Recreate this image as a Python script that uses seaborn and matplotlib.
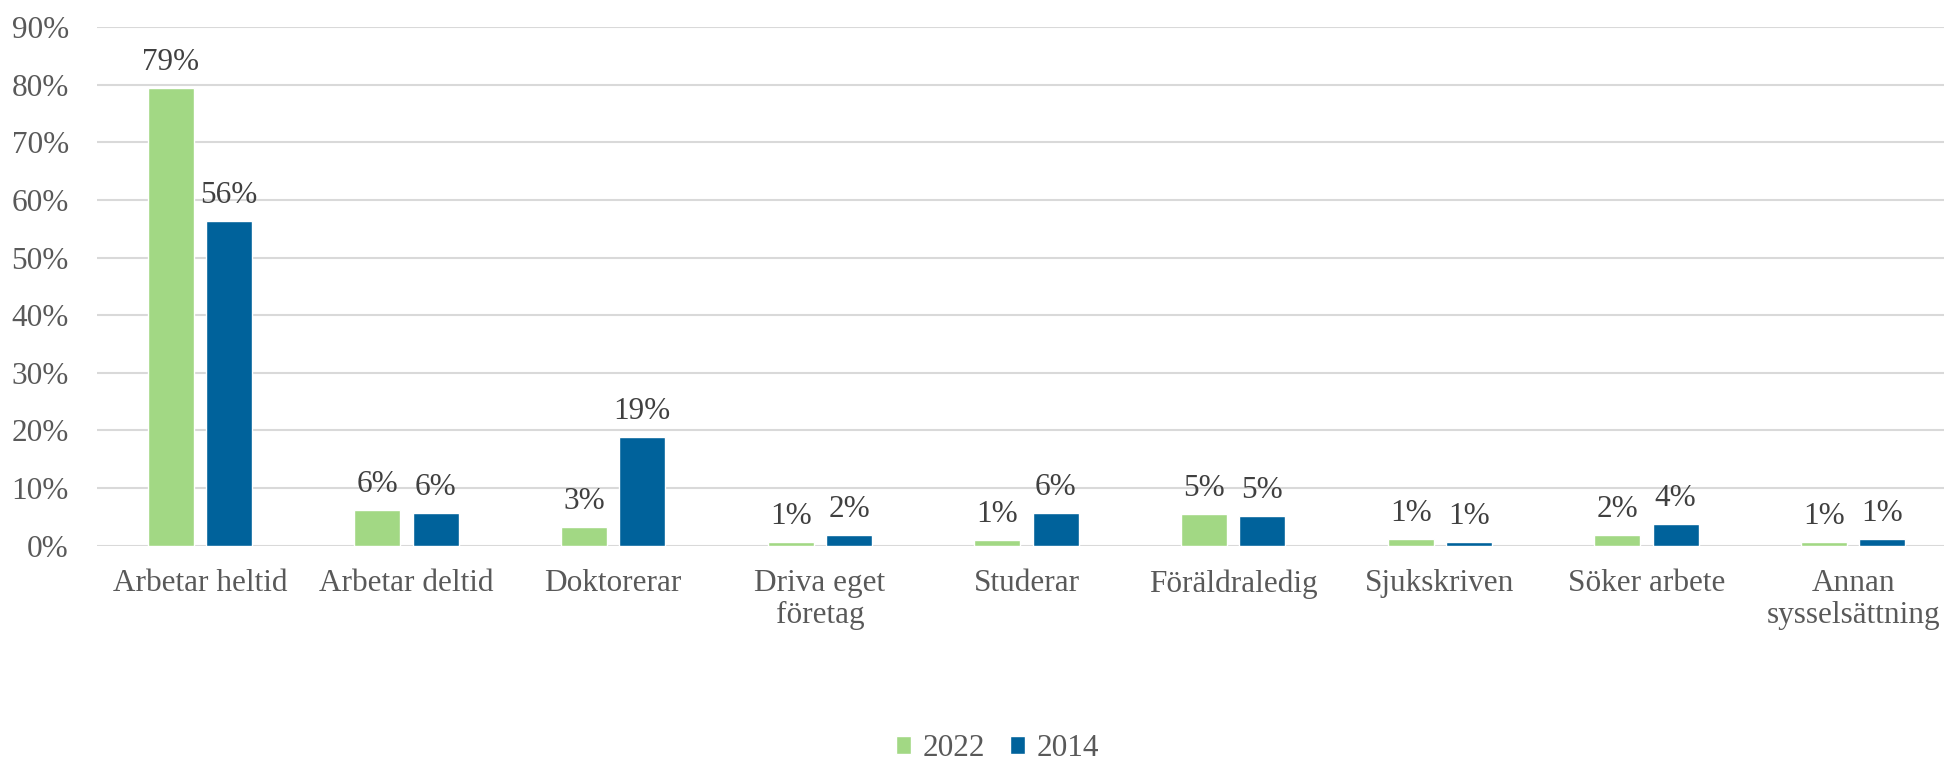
import numpy as np
import pandas as pd
import matplotlib
matplotlib.use('Agg')
import matplotlib.pyplot as plt
import seaborn as sns

# Data (percent)
categories = ['Arbetar heltid', 'Arbetar deltid', 'Doktorerar', 'Driva eget\nföretag',
              'Studerar', 'Föräldraledig', 'Sjukskriven', 'Söker arbete',
              'Annan\nsysselsättning']
years = ['2022', '2014']
values_2022 = [79.4, 6.2, 3.2, 0.6, 0.9, 5.4, 1.1, 1.9, 0.6]
values_2014 = [56.4, 5.6, 18.9, 1.9, 5.6, 5.2, 0.6, 3.7, 1.1]
yticks = [0, 10, 20, 30, 40, 50, 60, 70, 80, 90]

GREEN = '#A2D884'
BLUE = '#00629B'
TEXT = '#595959'
GRID = '#D9D9D9'
FS = 22.5

df = pd.DataFrame({
    'kategori': categories * 2,
    'ar': [years[0]] * len(categories) + [years[1]] * len(categories),
    'andel': values_2022 + values_2014,
})

sns.set_theme(style='white')
plt.rcParams['font.family'] = ['Liberation Serif', 'DejaVu Serif']
plt.rcParams['text.color'] = TEXT

fig = plt.figure(figsize=(19.44, 7.67), dpi=100)
ax = fig.add_axes([0.0497, 0.2887, 0.9503, 0.6757])

sns.barplot(data=df, x='kategori', y='andel', hue='ar', hue_order=years,
            palette=[GREEN, BLUE], width=0.564, gap=0.21, saturation=1,
            ax=ax, zorder=3)

handles = ax.legend_.legend_handles
labels = [t.get_text() for t in ax.legend_.texts]
ax.legend_.remove()

for cont in ax.containers:
    ax.bar_label(cont, labels=[f'{v:.0f}%' for v in cont.datavalues],
                 padding=8, fontsize=FS, color='#404040')

ax.set_ylim(0, 90)
ax.set_xlim(-0.5, 8.44)
ax.set_yticks(yticks)
ax.set_yticklabels([f'{t}%' for t in yticks])
ax.yaxis.grid(True, color=GRID, linewidth=1.5, zorder=0)
ax.set_axisbelow(True)
for s in ax.spines.values():
    s.set_visible(False)
ax.tick_params(axis='y', length=0, pad=20, labelsize=FS, labelcolor=TEXT)
ax.tick_params(axis='x', length=0, pad=17, labelsize=FS, labelcolor=TEXT)
for t in ax.get_xticklabels():
    t.set_linespacing(1.15)
ax.set_xlabel('')
ax.set_ylabel('')

fig.legend(handles, labels, loc='center', bbox_to_anchor=(0.513, 0.024),
           ncol=2, frameon=False, fontsize=FS, handlelength=0.5, handleheight=0.5,
           handletextpad=0.35, columnspacing=0.8, labelcolor=TEXT,
           borderpad=0.1)

fig.savefig('out.png', dpi=100)
